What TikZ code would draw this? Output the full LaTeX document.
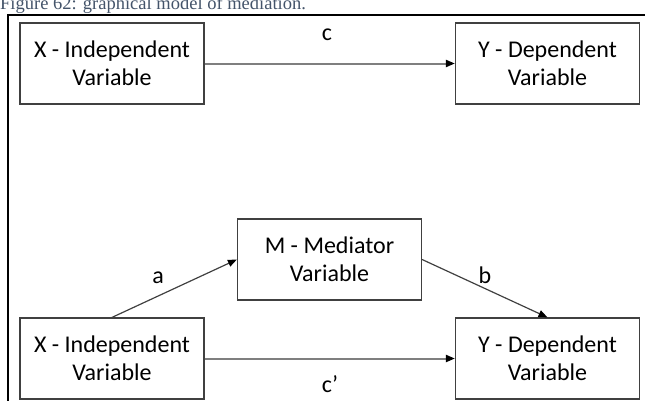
\documentclass[tikz,border=0pt]{standalone}
\usepackage{fontspec}
\setmainfont{Carlito}
\newfontfamily\titlefont{Liberation Serif}
\usetikzlibrary{arrows.meta}
\definecolor{boxgray}{HTML}{404040}
\definecolor{linegray}{HTML}{7F7F7F}
\definecolor{titleblue}{HTML}{44546A}
\begin{document}
\begin{tikzpicture}[x=1pt,y=1pt,
  box/.style={draw=boxgray, line width=1.2pt, minimum width=184pt, minimum height=81pt,
    align=center, font=\fontsize{24}{28}\selectfont, inner sep=0pt},
  tip/.style={-{Triangle[length=9pt,width=7pt,color=black]}},
  hline/.style={draw=linegray, line width=2pt, tip},
  dline/.style={draw=boxgray, line width=1.2pt, tip},
  lbl/.style={font=\fontsize{24}{28}\selectfont, inner sep=0pt}
]
\useasboundingbox (0,0) rectangle (645,400);
\clip (0,0) rectangle (645,400);
\node[anchor=base west, font=\titlefont\fontsize{18.5}{20}\selectfont, text=titleblue, inner sep=0pt]
  (title) at (0,390.5) {Figure 62: graphical model of mediation.};
\draw[line width=2.5pt] (8,-2) -- (8,385) -- (650,385);
\node[box] (x1) at (112,336.5) {X - Independent\\Variable};
\node[box] (y1) at (547.5,336.5) {Y - Dependent\\Variable};
\node[box] (m) at (329.5,140.5) {M - Mediator\\Variable};
\node[box] (x2) at (112,41.5) {X - Independent\\Variable};
\node[box] (y2) at (547.5,41.5) {Y - Dependent\\Variable};
\draw[hline] (x1.east) -- (y1.west);
\draw[hline] (x2.east) -- (y2.west);
\draw[dline] (x2.north) -- (m.west);
\draw[dline] (m.east) -- (y2.north);
\node[lbl] (lc) at (327,365) {c};
\node[lbl] (lcp) at (330,16) {c’};
\node[lbl] (la) at (158,122) {a};
\node[lbl] (lb) at (485,125) {b};
\end{tikzpicture}
\end{document}
